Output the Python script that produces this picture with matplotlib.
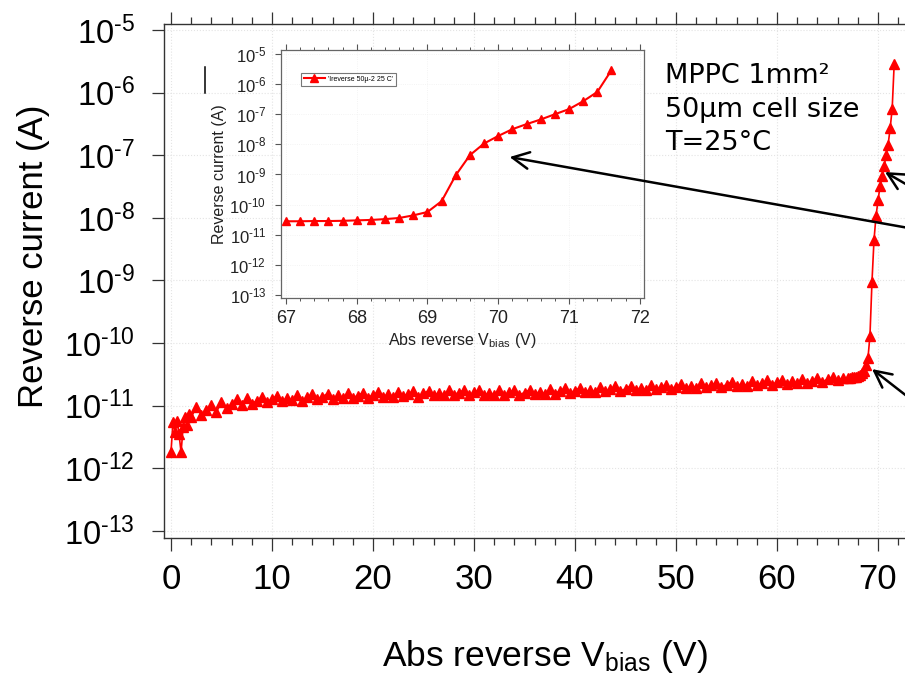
import matplotlib
matplotlib.use("Agg")
import matplotlib.pyplot as plt
from matplotlib.ticker import FixedLocator, MultipleLocator, FixedFormatter, NullLocator, NullFormatter
from matplotlib.lines import Line2D

plt.rcParams['font.family'] = ['Liberation Sans', 'DejaVu Sans']
plt.rcParams['mathtext.fontset'] = 'custom'
plt.rcParams['mathtext.rm'] = 'Liberation Sans'
plt.rcParams['mathtext.it'] = 'Liberation Sans:italic'
plt.rcParams['mathtext.bf'] = 'Liberation Sans:bold'

# ---------------- data ----------------
# low-bias region (V) and current in pA
v_low = [0.0, 0.2, 0.4, 0.6, 0.8, 1.0, 1.2, 1.4, 1.6, 1.8, 2.0,
         2.5, 3.0, 3.5, 4.0, 4.5, 5.0, 5.5, 6.0, 6.5, 7.0,
         7.5, 8.0, 8.5, 9.0, 9.5, 10.0, 10.5, 11.0, 11.5, 12.0,
         12.5, 13.0, 13.5, 14.0, 14.5, 15.0, 15.5, 16.0, 16.5, 17.0,
         17.5, 18.0, 18.5, 19.0, 19.5, 20.0, 20.5, 21.0, 21.5, 22.0,
         22.5, 23.0, 23.5, 24.0, 24.5, 25.0, 25.5, 26.0, 26.5, 27.0,
         27.5, 28.0, 28.5, 29.0, 29.5, 30.0, 30.5, 31.0, 31.5, 32.0,
         32.5, 33.0, 33.5, 34.0, 34.5, 35.0, 35.5, 36.0, 36.5, 37.0,
         37.5, 38.0, 38.5, 39.0, 39.5, 40.0, 40.5, 41.0, 41.5, 42.0,
         42.5, 43.0, 43.5, 44.0, 44.5, 45.0, 45.5, 46.0, 46.5, 47.0,
         47.5, 48.0, 48.5, 49.0, 49.5, 50.0, 50.5, 51.0, 51.5, 52.0,
         52.5, 53.0, 53.5, 54.0, 54.5, 55.0, 55.5, 56.0, 56.5, 57.0,
         57.5, 58.0, 58.5, 59.0, 59.5, 60.0, 60.5, 61.0, 61.5, 62.0,
         62.5, 63.0, 63.5, 64.0, 64.5, 65.0, 65.5, 66.0, 66.5]
i_low_pA = [1.8, 5.5, 3.8, 5.8, 3.5, 1.8, 4.5, 6.5, 5.0, 7.5, 6.5,
            9.5, 7.2, 8.6, 10.2, 8.0, 11.3, 9.2, 10.5, 12.6, 10.4,
            13.2, 10.8, 12.0, 13.8, 11.4, 12.8, 14.5, 11.8, 13.3, 12.2,
            15.0, 12.0, 13.9, 15.2, 12.6, 14.0, 15.6, 12.8, 14.6, 13.2,
            15.8, 13.4, 14.5, 16.2, 13.3, 15.0, 16.4, 13.8, 15.3, 14.0,
            16.8, 14.2, 15.6, 17.0, 14.0, 15.8, 17.4, 14.6, 16.0, 14.8,
            17.6, 15.0, 16.2, 17.8, 14.6, 16.4, 17.6, 14.8, 16.0, 15.0,
            17.7, 14.6, 16.3, 17.9, 15.0, 16.2, 18.0, 15.2, 16.8, 15.4,
            18.6, 15.6, 17.2, 19.0, 16.0, 17.4, 19.4, 16.4, 18.0, 16.6,
            19.8, 16.9, 18.4, 20.5, 17.2, 18.6, 20.8, 17.6, 19.4, 17.8,
            21.2, 18.2, 19.8, 21.8, 18.6, 20.2, 22.2, 18.9, 20.6, 19.2,
            22.8, 19.6, 21.2, 23.4, 20.0, 21.7, 24.0, 20.5, 22.4, 21.0,
            24.6, 21.4, 23.0, 25.3, 21.8, 23.6, 26.0, 22.4, 24.4, 23.0,
            26.8, 23.4, 25.2, 27.6, 24.2, 26.4, 28.8, 25.4, 27.5]

# breakdown region (V) and current in A
v_bd = [67.0, 67.2, 67.4, 67.6, 67.8, 68.0, 68.2, 68.4, 68.6, 68.8,
        69.0, 69.2, 69.4, 69.6, 69.8, 70.0, 70.2, 70.4, 70.6, 70.8,
        71.0, 71.2, 71.4, 71.6]
i_bd = [2.8e-11, 2.8e-11, 2.85e-11, 2.85e-11, 2.9e-11, 3.0e-11, 3.1e-11, 3.3e-11, 3.6e-11, 4.4e-11,
        5.7e-11, 1.3e-10, 9.5e-10, 4.4e-9, 1.07e-8, 1.9e-8, 3.2e-8, 4.7e-8, 6.7e-8, 1.0e-7,
        1.48e-7, 2.7e-7, 5.5e-7, 2.9e-6]

main_xticks = [0, 10, 20, 30, 40, 50, 60, 70]
y_decades = [1e-5, 1e-6, 1e-7, 1e-8, 1e-9, 1e-10, 1e-11, 1e-12, 1e-13]
y_ticklabels = [r'$10^{\text{-5}}$', r'$10^{\text{-6}}$', r'$10^{\text{-7}}$', r'$10^{\text{-8}}$',
                r'$10^{\text{-9}}$', r'$10^{\text{-10}}$', r'$10^{\text{-11}}$', r'$10^{\text{-12}}$',
                r'$10^{\text{-13}}$']
inset_xticks = [67, 68, 69, 70, 71, 72]
legend_label = "'Ireverse 50\u00b5-2 25 C'"
note_text = "MPPC 1mm\u00b2\n50\u00b5m cell size\nT=25\u00b0C"

v_all = v_low + v_bd
i_all = [p * 1e-12 for p in i_low_pA] + i_bd

# ---------------- figure ----------------
W, H = 905, 676
fig = plt.figure(figsize=(W / 100, H / 100), dpi=100)

def px_rect(x0, y0, x1, y1):
    return [x0 / W, 1 - y1 / H, (x1 - x0) / W, (y1 - y0) / H]

RED = '#ff0000'
SPINE = '#333333'

# main axes (extends beyond the right edge, like the cropped original)
ax = fig.add_axes(px_rect(164, 24, 925, 538))
ax.plot(v_all, i_all, color=RED, lw=1.2, marker='^', ms=6.5, mec=RED, mfc=RED, zorder=3)
ax.set_yscale('log')
ax.set_xlim(-0.69, 74.65)
ax.set_ylim(10 ** -13.112, 10 ** -4.904)
ax.yaxis.set_major_locator(FixedLocator(y_decades))
ax.yaxis.set_major_formatter(FixedFormatter(y_ticklabels))
ax.yaxis.set_minor_locator(NullLocator())
ax.yaxis.set_minor_formatter(NullFormatter())
ax.xaxis.set_major_locator(FixedLocator(main_xticks))
ax.xaxis.set_minor_locator(MultipleLocator(2))
ax.tick_params(axis='both', which='major', direction='out', length=9, width=0.9,
               color=SPINE, labelcolor='black')
ax.tick_params(axis='y', which='major', pad=12, labelsize=23.5)
ax.tick_params(axis='x', which='major', pad=9, top=True, labelsize=25)
ax.tick_params(axis='x', which='minor', direction='out', length=5, width=0.9, color=SPINE, top=True)
for s in ax.spines.values():
    s.set_color(SPINE)
    s.set_linewidth(1.0)
ax.grid(True, which='major', color='#e4e4e4', ls=':', lw=0.8, zorder=0)
ax.set_ylabel('Reverse current (A)', fontsize=25)
ax.yaxis.set_label_coords((50 - 164) / 761, (538 - 256) / 514)
ax.set_xlabel('Abs reverse V$_{\\mathrm{bias}}$ (V)', fontsize=25.5, labelpad=30)

# text block
fig.text(665 / W, 1 - 63 / H, note_text, fontsize=19.5, family='DejaVu Sans',
         va='top', ha='left', linespacing=1.38)

# inset axes
axi = fig.add_axes(px_rect(281, 50, 644, 298))
axi.set_facecolor('white')
axi.plot(v_bd, i_bd, color=RED, lw=1.5, marker='^', ms=6, mec=RED, mfc=RED,
         label=legend_label, zorder=3)
axi.set_yscale('log')
axi.set_xlim(66.93, 72.06)
axi.set_ylim(10 ** -13.10, 10 ** -4.867)
axi.yaxis.set_major_locator(FixedLocator(y_decades))
axi.yaxis.set_major_formatter(FixedFormatter(y_ticklabels))
axi.yaxis.set_minor_locator(NullLocator())
axi.yaxis.set_minor_formatter(NullFormatter())
axi.xaxis.set_major_locator(FixedLocator(inset_xticks))
axi.xaxis.set_minor_locator(MultipleLocator(0.2))
axi.tick_params(axis='both', which='major', direction='out', length=4.5, width=0.8,
                color='#555555', labelcolor='#222222')
axi.tick_params(axis='x', which='major', labelsize=13, pad=4, top=True)
axi.tick_params(axis='y', which='major', labelsize=12, pad=6)
axi.tick_params(axis='x', which='minor', direction='out', length=2.5, width=0.7,
                color='#555555', top=True)
for s in axi.spines.values():
    s.set_color('#666666')
    s.set_linewidth(0.9)
axi.grid(True, which='major', color='#f0f0f0', ls=':', lw=0.6, zorder=0)
axi.set_ylabel('Reverse current (A)', fontsize=11.5, color='#222222', labelpad=2)
axi.set_xlabel('Abs reverse V$_{\\mathrm{bias}}$ (V)', fontsize=11.5, color='#222222', labelpad=3)
leg = axi.legend(loc='upper left', bbox_to_anchor=(0.055, 0.907), borderaxespad=0,
                 fontsize=5, handlelength=3, fancybox=False, framealpha=1,
                 edgecolor='#777777', borderpad=0.4, handletextpad=0.5)
leg.get_frame().set_linewidth(0.8)

# small stray bracket mark left of the inset
fig.add_artist(Line2D([205 / W, 205 / W], [1 - 67 / H, 1 - 93 / H], color='black', lw=1.1))

# arrows
arrow_kw = dict(arrowstyle='->,head_length=0.8,head_width=0.4', lw=1.8, color='black',
                mutation_scale=15, shrinkA=0, shrinkB=0)
axi.annotate('', xy=(70.16, 3.8e-9), xycoords='data',
             xytext=(1.06, 1 - 237 / H), textcoords='figure fraction',
             arrowprops=arrow_kw, annotation_clip=False)
ax.annotate('', xy=(70.69, 5.4e-8), xycoords='data',
            xytext=(935 / W, 1 - 201 / H), textcoords='figure fraction',
            arrowprops=arrow_kw, annotation_clip=False)
ax.annotate('', xy=(69.41, 3.85e-11), xycoords='data',
            xytext=(935 / W, 1 - 418 / H), textcoords='figure fraction',
            arrowprops=arrow_kw, annotation_clip=False)

fig.savefig('out.png', dpi=100)
